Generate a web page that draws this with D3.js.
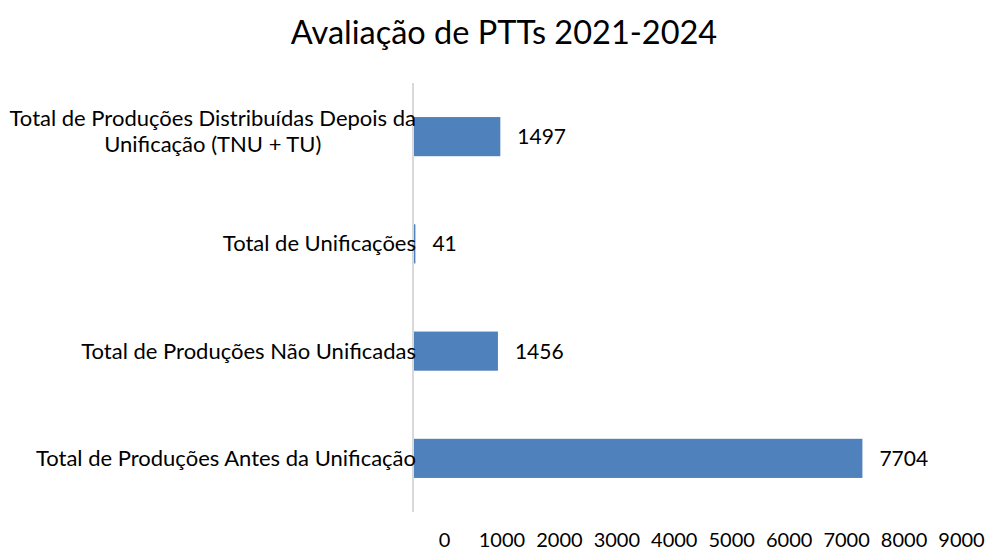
<!DOCTYPE html>
<html>
<head>
<meta charset="utf-8">
<script src="https://cdn.jsdelivr.net/npm/d3@7"></script>
<style>
  body { margin: 0; background: #fff; overflow: hidden; }
  text { font-family: Lato, "Open Sans", sans-serif; fill: #000; }
</style>
</head>
<body>
<div id="chart"></div>
<script>
// data, top bar first
var categories = [
    ["Total de Produções Distribuídas Depois da", "Unificação (TNU + TU)"],
    ["Total de Unificações"],
    ["Total de Produções Não Unificadas"],
    ["Total de Produções Antes da Unificação"]
];
var values = [1497, 41, 1456, 7704];
var tickValues = [0, 1000, 2000, 3000, 4000, 5000, 6000, 7000, 8000, 9000];

var chart = { width: 988, height: 550, left: 413, right: 938, top: 83, bottom: 512 };

var svg = d3.select("#chart").append("svg")
    .attr("width", chart.width)
    .attr("height", chart.height);

svg.append("text")
    .attr("x", 504)
    .attr("y", 44)
    .attr("text-anchor", "middle")
    .style("font-size", "32.5px")
    .text("Avaliação de PTTs 2021-2024");

var x = d3.scaleLinear().domain([0, 9000]).range([chart.left, chart.right]);
var y = d3.scaleBand()
    .domain(d3.range(categories.length))
    .range([chart.top, chart.bottom])
    .paddingInner(0.635)
    .paddingOuter(0.3175);

// bars
svg.selectAll(".bar")
    .data(values)
    .enter().append("rect")
    .attr("class", "bar")
    .attr("x", x(0))
    .attr("y", function(d, i) { return y(i); })
    .attr("width", function(d) { return x(d) - x(0); })
    .attr("height", y.bandwidth())
    .attr("fill", "#4f81bd");

// vertical axis line
svg.append("line")
    .attr("x1", x(0)).attr("x2", x(0))
    .attr("y1", chart.top).attr("y2", chart.bottom)
    .attr("stroke", "#d9d9d9")
    .attr("stroke-width", 2);

// category labels (multi-line ones centred on each other)
categories.forEach(function(lines, i) {
    var cy = y(i) + y.bandwidth() / 2;
    var g = svg.append("g");
    var first = g.append("text")
        .attr("x", x(0) + 3)
        .attr("text-anchor", "end")
        .style("font-size", "22px")
        .text(lines[0]);
    var w = first.node().getComputedTextLength();
    var lh = 26;
    var y0 = cy - (lines.length - 1) * (lh / 2 + 5) + 7.5;
    first.attr("y", y0);
    for (var k = 1; k < lines.length; k++) {
        g.append("text")
            .attr("x", x(0) + 3 - w / 2)
            .attr("y", y0 + k * lh)
            .attr("text-anchor", "middle")
            .style("font-size", "22px")
            .text(lines[k]);
    }
});

// value labels
svg.selectAll(".val")
    .data(values)
    .enter().append("text")
    .attr("class", "val")
    .attr("x", function(d) { return x(d) + 17; })
    .attr("y", function(d, i) { return y(i) + y.bandwidth() / 2 + 7.5; })
    .style("font-size", "21px")
    .text(function(d) { return d; });

// bottom axis, labels only; in the original they sit offset from the bars' scale
var xAxisScale = x.copy().range([444, 961]);
var axis = svg.append("g")
    .attr("transform", "translate(0," + (chart.bottom + 35) + ")")
    .call(d3.axisBottom(xAxisScale).tickValues(tickValues).tickSize(0).tickFormat(d3.format("d")));
axis.select(".domain").remove();
axis.selectAll("text")
    .attr("dy", "0")
    .attr("y", 0)
    .style("font-size", "20px")
    .style("font-family", "Lato, 'Open Sans', sans-serif")
    .attr("fill", "#000");
</script>
</body>
</html>
